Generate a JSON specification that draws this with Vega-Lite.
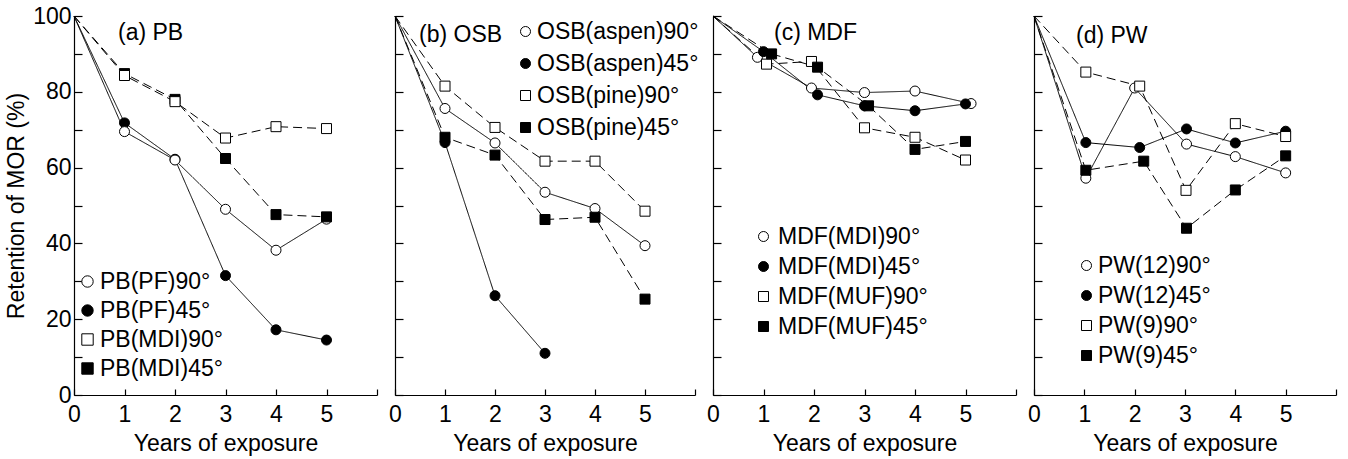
{
  "$schema": "https://vega.github.io/schema/vega-lite/v6.json",
  "background": "white",
  "padding": {"left": 5, "top": 5, "right": 5, "bottom": 5},
  "bounds": "flush",
  "spacing": 18,
  "datasets": {
    "all": [
      {"panel": "a", "series": "PB(PF)45°", "year": 0, "value": 100},
      {"panel": "a", "series": "PB(PF)45°", "year": 1, "value": 71.8},
      {"panel": "a", "series": "PB(PF)45°", "year": 2, "value": 62.2},
      {"panel": "a", "series": "PB(PF)45°", "year": 3, "value": 31.5},
      {"panel": "a", "series": "PB(PF)45°", "year": 4, "value": 17.2},
      {"panel": "a", "series": "PB(PF)45°", "year": 5, "value": 14.5},
      {"panel": "a", "series": "PB(PF)90°", "year": 0, "value": 100},
      {"panel": "a", "series": "PB(PF)90°", "year": 1, "value": 69.5},
      {"panel": "a", "series": "PB(PF)90°", "year": 2, "value": 62},
      {"panel": "a", "series": "PB(PF)90°", "year": 3, "value": 49},
      {"panel": "a", "series": "PB(PF)90°", "year": 4, "value": 38.2},
      {"panel": "a", "series": "PB(PF)90°", "year": 5, "value": 46.4},
      {"panel": "a", "series": "PB(MDI)45°", "year": 0, "value": 100},
      {"panel": "a", "series": "PB(MDI)45°", "year": 1, "value": 84.8},
      {"panel": "a", "series": "PB(MDI)45°", "year": 2, "value": 78},
      {"panel": "a", "series": "PB(MDI)45°", "year": 3, "value": 62.4},
      {"panel": "a", "series": "PB(MDI)45°", "year": 4, "value": 47.6},
      {"panel": "a", "series": "PB(MDI)45°", "year": 5, "value": 47},
      {"panel": "a", "series": "PB(MDI)90°", "year": 0, "value": 100},
      {"panel": "a", "series": "PB(MDI)90°", "year": 1, "value": 84.3},
      {"panel": "a", "series": "PB(MDI)90°", "year": 2, "value": 77.4},
      {"panel": "a", "series": "PB(MDI)90°", "year": 3, "value": 67.8},
      {"panel": "a", "series": "PB(MDI)90°", "year": 4, "value": 70.8},
      {"panel": "a", "series": "PB(MDI)90°", "year": 5, "value": 70.3},

      {"panel": "b", "series": "OSB(aspen)45°", "year": 0, "value": 100},
      {"panel": "b", "series": "OSB(aspen)45°", "year": 1, "value": 66.6},
      {"panel": "b", "series": "OSB(aspen)45°", "year": 2, "value": 26.2},
      {"panel": "b", "series": "OSB(aspen)45°", "year": 3, "value": 11},
      {"panel": "b", "series": "OSB(aspen)90°", "year": 0, "value": 100},
      {"panel": "b", "series": "OSB(aspen)90°", "year": 1, "value": 75.6},
      {"panel": "b", "series": "OSB(aspen)90°", "year": 2, "value": 66.5},
      {"panel": "b", "series": "OSB(aspen)90°", "year": 3, "value": 53.5},
      {"panel": "b", "series": "OSB(aspen)90°", "year": 4, "value": 49.2},
      {"panel": "b", "series": "OSB(aspen)90°", "year": 5, "value": 39.4},
      {"panel": "b", "series": "OSB(pine)45°", "year": 0, "value": 100},
      {"panel": "b", "series": "OSB(pine)45°", "year": 1, "value": 68},
      {"panel": "b", "series": "OSB(pine)45°", "year": 2, "value": 63.3},
      {"panel": "b", "series": "OSB(pine)45°", "year": 3, "value": 46.3},
      {"panel": "b", "series": "OSB(pine)45°", "year": 4, "value": 46.9},
      {"panel": "b", "series": "OSB(pine)45°", "year": 5, "value": 25.3},
      {"panel": "b", "series": "OSB(pine)90°", "year": 0, "value": 100},
      {"panel": "b", "series": "OSB(pine)90°", "year": 1, "value": 81.5},
      {"panel": "b", "series": "OSB(pine)90°", "year": 2, "value": 70.6},
      {"panel": "b", "series": "OSB(pine)90°", "year": 3, "value": 61.7},
      {"panel": "b", "series": "OSB(pine)90°", "year": 4, "value": 61.7},
      {"panel": "b", "series": "OSB(pine)90°", "year": 5, "value": 48.5},

      {"panel": "c", "series": "MDF(MDI)90°", "year": 0, "value": 100},
      {"panel": "c", "series": "MDF(MDI)90°", "year": 0.88, "value": 89.1},
      {"panel": "c", "series": "MDF(MDI)90°", "year": 1.95, "value": 81},
      {"panel": "c", "series": "MDF(MDI)90°", "year": 3.0, "value": 79.8},
      {"panel": "c", "series": "MDF(MDI)90°", "year": 4.0, "value": 80.2},
      {"panel": "c", "series": "MDF(MDI)90°", "year": 5.11, "value": 76.9},
      {"panel": "c", "series": "MDF(MDI)45°", "year": 0, "value": 100},
      {"panel": "c", "series": "MDF(MDI)45°", "year": 1.0, "value": 90.6},
      {"panel": "c", "series": "MDF(MDI)45°", "year": 2.07, "value": 79.2},
      {"panel": "c", "series": "MDF(MDI)45°", "year": 3.0, "value": 76.3},
      {"panel": "c", "series": "MDF(MDI)45°", "year": 4.0, "value": 75},
      {"panel": "c", "series": "MDF(MDI)45°", "year": 5.0, "value": 76.8},
      {"panel": "c", "series": "MDF(MUF)90°", "year": 0, "value": 100},
      {"panel": "c", "series": "MDF(MUF)90°", "year": 1.06, "value": 87.3},
      {"panel": "c", "series": "MDF(MUF)90°", "year": 1.95, "value": 88},
      {"panel": "c", "series": "MDF(MUF)90°", "year": 3.0, "value": 70.5},
      {"panel": "c", "series": "MDF(MUF)90°", "year": 4.0, "value": 68},
      {"panel": "c", "series": "MDF(MUF)90°", "year": 5.0, "value": 62},
      {"panel": "c", "series": "MDF(MUF)45°", "year": 0, "value": 100},
      {"panel": "c", "series": "MDF(MUF)45°", "year": 1.16, "value": 90},
      {"panel": "c", "series": "MDF(MUF)45°", "year": 2.07, "value": 86.5},
      {"panel": "c", "series": "MDF(MUF)45°", "year": 3.08, "value": 76.3},
      {"panel": "c", "series": "MDF(MUF)45°", "year": 4.0, "value": 64.8},
      {"panel": "c", "series": "MDF(MUF)45°", "year": 5.0, "value": 66.9},

      {"panel": "d", "series": "PW(12)90°", "year": 0, "value": 100},
      {"panel": "d", "series": "PW(12)90°", "year": 1.03, "value": 57.2},
      {"panel": "d", "series": "PW(12)90°", "year": 2.0, "value": 81},
      {"panel": "d", "series": "PW(12)90°", "year": 3.03, "value": 66.2},
      {"panel": "d", "series": "PW(12)90°", "year": 4.0, "value": 62.9},
      {"panel": "d", "series": "PW(12)90°", "year": 5.0, "value": 58.6},
      {"panel": "d", "series": "PW(12)45°", "year": 0, "value": 100},
      {"panel": "d", "series": "PW(12)45°", "year": 1.03, "value": 66.6},
      {"panel": "d", "series": "PW(12)45°", "year": 2.1, "value": 65.3},
      {"panel": "d", "series": "PW(12)45°", "year": 3.03, "value": 70.2},
      {"panel": "d", "series": "PW(12)45°", "year": 4.0, "value": 66.5},
      {"panel": "d", "series": "PW(12)45°", "year": 5.0, "value": 69.6},
      {"panel": "d", "series": "PW(9)45°", "year": 0, "value": 100},
      {"panel": "d", "series": "PW(9)45°", "year": 1.03, "value": 59.3},
      {"panel": "d", "series": "PW(9)45°", "year": 2.18, "value": 61.7},
      {"panel": "d", "series": "PW(9)45°", "year": 3.03, "value": 44},
      {"panel": "d", "series": "PW(9)45°", "year": 4.0, "value": 54.1},
      {"panel": "d", "series": "PW(9)45°", "year": 5.0, "value": 63.1},
      {"panel": "d", "series": "PW(9)90°", "year": 0, "value": 100},
      {"panel": "d", "series": "PW(9)90°", "year": 1.03, "value": 85.2},
      {"panel": "d", "series": "PW(9)90°", "year": 2.1, "value": 81.5},
      {"panel": "d", "series": "PW(9)90°", "year": 3.02, "value": 54},
      {"panel": "d", "series": "PW(9)90°", "year": 4.0, "value": 71.6},
      {"panel": "d", "series": "PW(9)90°", "year": 5.0, "value": 68.2}
    ]
  },
  "data": {"name": "all"},
  "resolve": {
    "scale": {"x": "independent", "y": "independent", "shape": "independent", "fill": "independent", "strokeDash": "independent"},
    "legend": {"shape": "independent", "fill": "independent", "strokeDash": "independent"}
  },
  "hconcat": [
    {
      "width": 303, "height": 379,
      "title": {"text": "(a) PB", "dx": 44, "offset": -40},
      "transform": [{"filter": "datum.panel === 'a'"}],
      "encoding": {
        "x": {"field": "year", "type": "quantitative", "scale": {"domain": [0, 6], "nice": false},
          "axis": {"values": [0, 1, 2, 3, 4, 5, 6], "labelExpr": "datum.value == 6 ? '' : datum.label", "title": "Years of exposure", "tickSize": -6, "labelPadding": 14, "labelFlush": false, "labelOverlap": false, "titlePadding": 6}},
        "y": {"field": "value", "type": "quantitative", "scale": {"domain": [0, 100], "nice": false},
          "axis": {"values": [0, 10, 20, 30, 40, 50, 60, 70, 80, 90, 100], "labelExpr": "datum.value % 20 == 0 ? datum.label : ''", "title": "Retention of MOR (%)", "tickSize": -8, "labelPadding": 11, "labelFlush": false, "labelOverlap": false, "titlePadding": 4}}
      },
      "layer": [
        {"mark": {"type": "line", "color": "black", "strokeWidth": 1},
         "encoding": {"detail": {"field": "series"},
           "strokeDash": {"field": "series", "type": "nominal", "legend": null,
             "scale": {"domain": ["PB(PF)45°", "PB(PF)90°", "PB(MDI)45°", "PB(MDI)90°"], "range": [[1, 0], [1, 0], [9, 5], [9, 5]]}}}},
        {"transform": [{"filter": "datum.year > 0"}],
         "mark": {"type": "point", "stroke": "black", "strokeWidth": 1, "opacity": 1, "size": 100},
         "encoding": {
           "shape": {"field": "series", "type": "nominal", "scale": {"domain": ["PB(PF)90°", "PB(PF)45°", "PB(MDI)90°", "PB(MDI)45°"], "range": ["circle", "circle", "square", "square"]},
             "legend": {"orient": "none", "legendX": 2, "legendY": 254, "title": null, "symbolSize": 130, "rowPadding": 5, "labelOffset": 1,
               "encode": {"symbols": {"update": {"stroke": {"value": "black"}, "strokeWidth": {"value": 1}, "opacity": {"value": 1}}}}}},
           "fill": {"field": "series", "type": "nominal", "scale": {"domain": ["PB(PF)90°", "PB(PF)45°", "PB(MDI)90°", "PB(MDI)45°"], "range": ["white", "black", "white", "black"]},
             "legend": {"orient": "none", "legendX": 2, "legendY": 254, "title": null, "symbolSize": 130, "rowPadding": 5, "labelOffset": 1,
               "encode": {"symbols": {"update": {"stroke": {"value": "black"}, "strokeWidth": {"value": 1}, "opacity": {"value": 1}}}}}}
         }}
      ]
    },
    {
      "width": 300, "height": 379,
      "title": {"text": "(b) OSB", "dx": 24, "offset": -33},
      "transform": [{"filter": "datum.panel === 'b'"}],
      "encoding": {
        "x": {"field": "year", "type": "quantitative", "scale": {"domain": [0, 6], "nice": false},
          "axis": {"values": [0, 1, 2, 3, 4, 5, 6], "labelExpr": "datum.value == 6 ? '' : datum.label", "title": "Years of exposure", "tickSize": -6, "labelPadding": 14, "labelFlush": false, "labelOverlap": false, "titlePadding": 6}},
        "y": {"field": "value", "type": "quantitative", "scale": {"domain": [0, 100], "nice": false},
          "axis": {"values": [0, 10, 20, 30, 40, 50, 60, 70, 80, 90, 100], "labels": false, "title": null, "tickSize": -8}}
      },
      "layer": [
        {"mark": {"type": "line", "color": "black", "strokeWidth": 1},
         "encoding": {"detail": {"field": "series"},
           "strokeDash": {"field": "series", "type": "nominal", "legend": null,
             "scale": {"domain": ["OSB(aspen)45°", "OSB(aspen)90°", "OSB(pine)45°", "OSB(pine)90°"], "range": [[1, 0], [1, 0], [9, 5], [9, 5]]}}}},
        {"transform": [{"filter": "datum.year > 0"}],
         "mark": {"type": "point", "stroke": "black", "strokeWidth": 1, "opacity": 1, "size": 100},
         "encoding": {
           "shape": {"field": "series", "type": "nominal", "scale": {"domain": ["OSB(aspen)90°", "OSB(aspen)45°", "OSB(pine)90°", "OSB(pine)45°"], "range": ["circle", "circle", "square", "square"]},
             "legend": {"orient": "none", "legendX": 119, "legendY": 4, "title": null, "rowPadding": 8, "labelOffset": 0,
               "encode": {"symbols": {"update": {"stroke": {"value": "black"}, "strokeWidth": {"value": 1}, "opacity": {"value": 1}}}}}},
           "fill": {"field": "series", "type": "nominal", "scale": {"domain": ["OSB(aspen)90°", "OSB(aspen)45°", "OSB(pine)90°", "OSB(pine)45°"], "range": ["white", "black", "white", "black"]},
             "legend": {"orient": "none", "legendX": 119, "legendY": 4, "title": null, "rowPadding": 8, "labelOffset": 0,
               "encode": {"symbols": {"update": {"stroke": {"value": "black"}, "strokeWidth": {"value": 1}, "opacity": {"value": 1}}}}}}
         }}
      ]
    },
    {
      "width": 303, "height": 379,
      "title": {"text": "(c) MDF", "dx": 61, "offset": -31},
      "transform": [{"filter": "datum.panel === 'c'"}],
      "encoding": {
        "x": {"field": "year", "type": "quantitative", "scale": {"domain": [0, 6], "nice": false},
          "axis": {"values": [0, 1, 2, 3, 4, 5, 6], "labelExpr": "datum.value == 6 ? '' : datum.label", "title": "Years of exposure", "tickSize": -6, "labelPadding": 14, "labelFlush": false, "labelOverlap": false, "titlePadding": 6}},
        "y": {"field": "value", "type": "quantitative", "scale": {"domain": [0, 100], "nice": false},
          "axis": {"values": [0, 10, 20, 30, 40, 50, 60, 70, 80, 90, 100], "labels": false, "title": null, "tickSize": -8}}
      },
      "layer": [
        {"mark": {"type": "line", "color": "black", "strokeWidth": 1},
         "encoding": {"detail": {"field": "series"},
           "strokeDash": {"field": "series", "type": "nominal", "legend": null,
             "scale": {"domain": ["MDF(MDI)45°", "MDF(MDI)90°", "MDF(MUF)45°", "MDF(MUF)90°"], "range": [[1, 0], [1, 0], [9, 5], [9, 5]]}}}},
        {"transform": [{"filter": "datum.year > 0"}],
         "mark": {"type": "point", "stroke": "black", "strokeWidth": 1, "opacity": 1, "size": 100},
         "encoding": {
           "shape": {"field": "series", "type": "nominal", "scale": {"domain": ["MDF(MDI)90°", "MDF(MDI)45°", "MDF(MUF)90°", "MDF(MUF)45°"], "range": ["circle", "circle", "square", "square"]},
             "legend": {"orient": "none", "legendX": 39, "legendY": 209, "title": null, "rowPadding": 6, "labelOffset": 3,
               "encode": {"symbols": {"update": {"stroke": {"value": "black"}, "strokeWidth": {"value": 1}, "opacity": {"value": 1}}}}}},
           "fill": {"field": "series", "type": "nominal", "scale": {"domain": ["MDF(MDI)90°", "MDF(MDI)45°", "MDF(MUF)90°", "MDF(MUF)45°"], "range": ["white", "black", "white", "black"]},
             "legend": {"orient": "none", "legendX": 39, "legendY": 209, "title": null, "rowPadding": 6, "labelOffset": 3,
               "encode": {"symbols": {"update": {"stroke": {"value": "black"}, "strokeWidth": {"value": 1}, "opacity": {"value": 1}}}}}}
         }}
      ]
    },
    {
      "width": 302, "height": 379,
      "title": {"text": "(d) PW", "dx": 42, "offset": -34},
      "transform": [{"filter": "datum.panel === 'd'"}],
      "encoding": {
        "x": {"field": "year", "type": "quantitative", "scale": {"domain": [0, 6], "nice": false},
          "axis": {"values": [0, 1, 2, 3, 4, 5, 6], "labelExpr": "datum.value == 6 ? '' : datum.label", "title": "Years of exposure", "tickSize": -6, "labelPadding": 14, "labelFlush": false, "labelOverlap": false, "titlePadding": 6}},
        "y": {"field": "value", "type": "quantitative", "scale": {"domain": [0, 100], "nice": false},
          "axis": {"values": [0, 10, 20, 30, 40, 50, 60, 70, 80, 90, 100], "labels": false, "title": null, "tickSize": -8}}
      },
      "layer": [
        {"mark": {"type": "line", "color": "black", "strokeWidth": 1},
         "encoding": {"detail": {"field": "series"},
           "strokeDash": {"field": "series", "type": "nominal", "legend": null,
             "scale": {"domain": ["PW(12)45°", "PW(12)90°", "PW(9)45°", "PW(9)90°"], "range": [[1, 0], [1, 0], [9, 5], [9, 5]]}}}},
        {"transform": [{"filter": "datum.year > 0"}],
         "mark": {"type": "point", "stroke": "black", "strokeWidth": 1, "opacity": 1, "size": 100},
         "encoding": {
           "shape": {"field": "series", "type": "nominal", "scale": {"domain": ["PW(12)90°", "PW(12)45°", "PW(9)90°", "PW(9)45°"], "range": ["circle", "circle", "square", "square"]},
             "legend": {"orient": "none", "legendX": 41, "legendY": 238, "title": null, "rowPadding": 6, "labelOffset": 0,
               "encode": {"symbols": {"update": {"stroke": {"value": "black"}, "strokeWidth": {"value": 1}, "opacity": {"value": 1}}}}}},
           "fill": {"field": "series", "type": "nominal", "scale": {"domain": ["PW(12)90°", "PW(12)45°", "PW(9)90°", "PW(9)45°"], "range": ["white", "black", "white", "black"]},
             "legend": {"orient": "none", "legendX": 41, "legendY": 238, "title": null, "rowPadding": 6, "labelOffset": 0,
               "encode": {"symbols": {"update": {"stroke": {"value": "black"}, "strokeWidth": {"value": 1}, "opacity": {"value": 1}}}}}}
         }}
      ]
    }
  ],
  "config": {
    "font": "Liberation Sans",
    "view": {"stroke": null},
    "axis": {"domainColor": "black", "tickColor": "black", "labelColor": "black", "titleColor": "black", "grid": false,
      "labelFontSize": 23, "titleFontSize": 23, "titleFontWeight": "normal", "domainWidth": 1.2, "tickWidth": 1.2},
    "legend": {"padding": 0, "labelFontSize": 23, "labelColor": "black", "symbolSize": 100, "symbolStrokeColor": "black",
      "symbolStrokeWidth": 1, "symbolOpacity": 1, "rowPadding": 7, "labelOffset": 6, "labelLimit": 300},
    "title": {"anchor": "start", "fontSize": 23, "fontWeight": "normal", "color": "black", "baseline": "middle", "frame": "group"}
  }
}
